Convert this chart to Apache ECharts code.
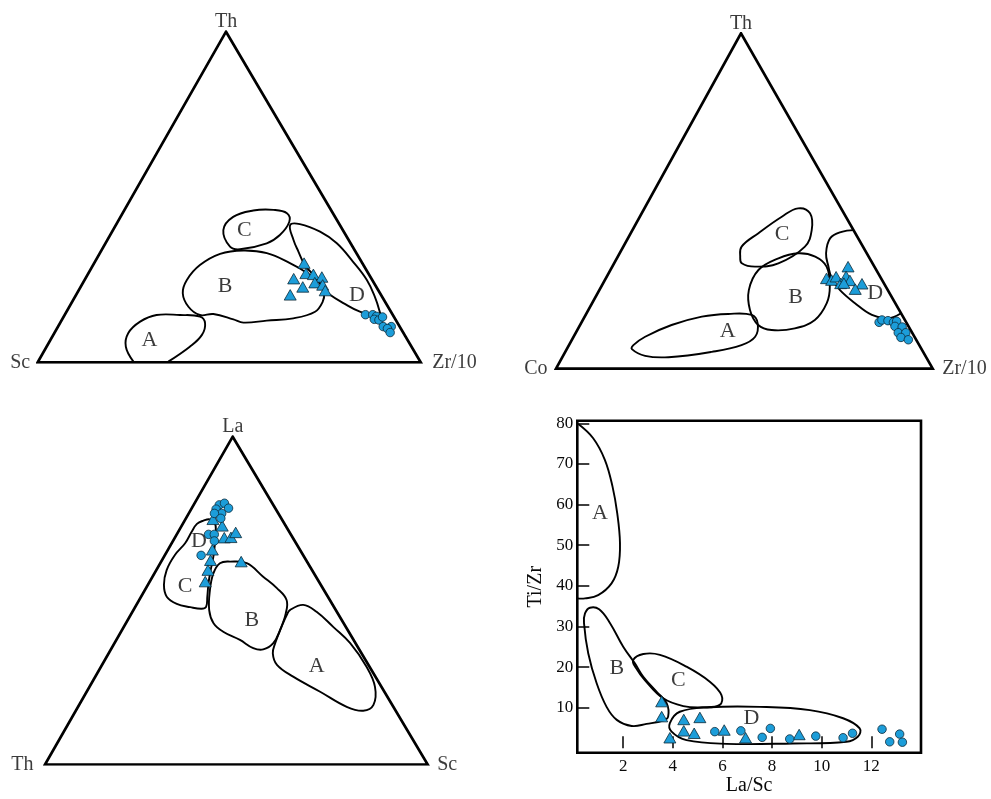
<!DOCTYPE html>
<html>
<head>
<meta charset="utf-8">
<title>Th–Sc–Zr/10, Th–Co–Zr/10, La–Th–Sc and Ti/Zr vs La/Sc discrimination diagrams</title>
<script src="https://cdn.jsdelivr.net/npm/echarts@6/dist/echarts.min.js"></script>
<style>
  html, body { margin: 0; padding: 0; background: #fff; }
  #chart { width: 991px; height: 799px; }
</style>
</head>
<body>
<div id="chart"></div>
<script>
// ---------- Sample compositions (ternary triples: [top, left, right] in %) ----------
// Th – Sc – Zr/10
const tszTriangles = [[30.0,15.2,54.8],[26.9,16.3,56.8],[26.6,14.5,58.9],[25.8,12.7,61.5],[25.3,20.3,54.4],
                      [24.1,15.4,60.5],[23.4,13.7,62.9],[22.8,19.2,58.0],[21.7,13.9,64.4],[20.4,23.7,55.9]];
const tszCircles   = [[14.4,7.1,78.5],[14.4,5.2,80.4],[13.9,4.5,81.6],[13.0,5.5,81.5],[12.8,4.4,82.8],
                      [13.7,3.0,83.3],[10.8,4.3,84.9],[10.8,2.2,87.0],[10.2,3.5,86.3],[9.0,3.4,87.6]];
// Th – Co – Zr/10
const tczTriangles = [[30.4,7.0,62.6],[26.9,14.5,58.6],[26.4,13.4,60.2],[27.4,11.7,60.9],[25.4,11.5,63.1],
                      [27.5,9.0,63.5],[26.3,8.6,65.1],[25.5,10.6,63.9],[25.3,5.9,68.8],[23.7,8.5,67.8]];
const tczCircles   = [[13.8,7.2,79.0],[14.5,6.1,79.4],[14.3,4.6,81.1],[13.8,3.4,82.8],[14.1,2.4,83.5],[12.6,3.6,83.8],
                      [12.4,1.8,85.8],[10.7,3.7,85.6],[10.7,1.7,87.6],[9.3,3.7,87.0],[8.6,2.1,89.3]];
// La – Th – Sc
const ltsCircles   = [[79.2,14.1,6.7],[79.7,12.5,7.8],[78.2,12.2,9.6],[77.9,15.6,6.5],[76.6,14.8,8.6],[76.6,16.7,6.7],
                      [75.1,15.8,9.1],[70.2,21.5,8.3],[70.2,20.0,9.8],[68.2,21.0,10.8],[63.8,26.7,9.5]];
const ltsTriangles = [[74.8,18.0,7.2],[72.8,16.6,10.6],[69.2,17.9,12.9],[69.3,16.1,14.6],[70.8,14.1,15.1],
                      [65.5,22.9,11.6],[62.3,25.0,12.7],[59.3,27.2,13.5],[55.8,29.7,14.5],[61.9,17.2,20.9]];

// ---------- Tectonic-setting fields (ternary outlines as [top %, right %]) ----------
const tszFieldA = [[0.2,24.9],[4.7,20.7],[8.8,19.3],[12.3,20.7],[14.3,24.0],[14.3,30.1],[13.8,35.6],[11.8,37.9],[8.3,38.8],[4.7,37.4],[0.2,34.0]];
const tszFieldB = [[33.8,37.1],[33.0,43.6],[30.0,51.1],[27.1,56.9],[23.9,62.0],[20.9,64.5],[18.3,65.4],[15.3,64.9],[13.3,60.2],[12.6,53.6],
                   [12.0,47.8],[13.0,44.7],[14.6,38.7],[14.3,35.3],[16.8,31.1],[20.9,27.6],[24.9,26.7],[29.4,27.9],[32.8,31.5]];
const tszFieldC = [[40.0,28.8],[35.0,33.0],[34.2,36.0],[36.0,42.1],[38.5,44.3],[42.5,44.8],[45.1,42.9],[46.1,38.9],[45.9,33.7],[44.0,29.4]];
const tszFieldD = [[41.5,45.5],[41.8,47.9],[39.5,54.3],[36.0,60.4],[30.4,67.4],[24.9,73.7],[19.8,78.3],[15.8,81.4],[13.8,82.6],
                   [15.3,76.6],[17.9,71.0],[20.4,66.3],[22.4,63.6],[25.9,59.7],[29.4,55.3],[33.5,51.6],[37.0,48.6]];

const tczFieldA = [[5.8,17.3],[3.8,21.8],[3.4,28.2],[5.0,38.9],[7.0,45.8],[9.5,48.2],[13.5,46.9],[16.0,44.1],[16.3,37.7],[15.5,31.1],[13.0,24.3],[9.5,19.0],[7.0,17.1]];
const tczFieldB = [[13.0,47.3],[11.5,51.6],[12.0,57.5],[14.5,61.6],[19.5,62.3],[24.4,60.7],[30.4,56.9],[33.4,52.4],[34.4,47.4],[32.9,42.9],[29.4,39.3],[23.4,39.7],[17.5,42.9]];
const tczFieldC = [[31.4,33.9],[30.4,37.9],[31.4,43.6],[36.4,48.2],[41.3,47.6],[46.3,44.7],[47.8,40.8],[45.3,37.7],[40.4,33.9],[36.4,31.4],[33.4,32.5]];
const tczFieldD = [[41.3,58.7],[40.8,55.8],[38.9,53.7],[34.4,54.8],[30.4,57.4],[26.9,60.0],[23.4,63.9],[19.5,69.8],[16.0,76.0],[15.0,80.8],[16.5,83.5]];

const ltsFieldCD = [[74.4,4.9],[73.4,3.7],[71.0,3.5],[67.5,3.5],[63.9,2.6],[59.3,2.7],[54.8,4.2],[51.2,6.7],[49.0,10.4],[48.0,14.4],[47.5,17.6],
                    [48.1,18.5],[51.2,17.3],[55.3,15.6],[59.3,14.2],[63.4,12.9],[67.5,11.3],[71.0,9.8],[73.6,8.3],[74.8,6.4]];
const ltsFieldB = [[61.4,15.6],[61.9,18.0],[61.4,22.6],[57.3,28.9],[53.8,34.2],[50.2,38.5],[46.1,40.3],[41.0,41.3],[37.0,41.5],[35.1,39.8],
                   [35.5,37.0],[38.0,32.3],[40.5,26.7],[43.1,22.9],[47.1,19.8],[53.2,17.0],[58.3,15.4]];
const ltsFieldA = [[47.1,40.9],[48.7,43.6],[46.6,48.1],[42.0,54.7],[37.0,61.6],[29.8,69.4],[23.7,74.6],[18.2,76.9],[16.4,75.1],[17.6,70.2],
                   [22.2,61.0],[26.8,51.7],[30.4,45.7],[33.9,42.9],[37.0,42.0],[42.0,41.2],[45.6,40.8]];

// Field-name positions ([top %, right %])
const tszFieldLabels = [['A',[6.8,25.8]],['B',[23.1,37.6]],['C',[40.0,34.3]],['D',[20.4,73.3]]];
const tczFieldLabels = [['A',[11.2,40.1]],['B',[21.4,53.1]],['C',[40.0,40.4]],['D',[22.5,73.7]]];
const ltsFieldLabels = [['D',[68.0,6.9]],['C',[54.5,9.9]],['B',[44.1,32.4]],['A',[30.0,56.3]]];

// ---------- Ti/Zr vs La/Sc ----------
const laScTriangles = [[3.55,11.5],[3.55,7.8],[4.44,7.1],[5.09,7.6],[4.44,4.3],[4.86,3.7],[6.07,4.5],[3.88,2.6],[6.93,2.6],[9.09,3.4]];
const laScCircles   = [[5.69,4.1],[6.74,4.3],[7.93,4.9],[7.60,2.7],[8.71,2.3],[9.76,3.0],[10.86,2.6],[11.24,3.7],[12.43,4.7],[12.74,1.6],[13.14,3.5],[13.25,1.5]];
const laScFieldA = [[0.19,79.8],[0.79,76.3],[1.26,71.0],[1.57,64.4],[1.76,57.8],[1.87,50.5],[1.80,44.7],[1.53,40.6],[0.99,37.7],[0.46,36.9],[0.15,36.9]];
const laScFieldB = [[0.66,34.6],[1.03,34.2],[1.47,30.8],[2.0,25.0],[2.47,20.9],[2.81,17.6],[3.35,13.9],[3.75,11.1],[3.81,7.8],[3.61,6.8],
                    [2.94,6.0],[2.34,5.5],[1.74,7.0],[1.33,10.2],[0.93,16.0],[0.59,23.4],[0.42,30.8],[0.46,33.2]];
const laScFieldC = [[2.40,21.7],[2.81,23.2],[3.48,23.0],[4.55,20.1],[5.49,16.4],[5.96,13.1],[5.89,10.7],[5.22,10.1],[4.42,10.4],[3.61,12.3],[2.87,16.8],[2.51,19.8]];
const laScFieldD = [[3.88,6.2],[4.28,9.0],[5.49,10.1],[7.50,10.2],[9.52,9.4],[10.86,7.4],[11.53,4.9],[11.46,2.9],[10.99,1.6],[8.84,1.2],[6.16,1.1],[4.55,2.0],[3.95,4.1]];
const laScFieldLabels = [['A',[1.06,57.8]],['B',[1.74,19.7]],['C',[4.22,16.8]],['D',[7.17,7.4]]];
const laScXTicks = [2, 4, 6, 8, 10, 12];
const laScYTicks = [10, 20, 30, 40, 50, 60, 70, 80];

// ---------- Drawing helpers ----------
const SERIF = '"Liberation Serif", "Times New Roman", Times, serif';
const INK = '#0a0a0a';
const FILL = '#1c9dd9';
const EDGE = '#0e2a38';

// Ternary panels: apex position as fraction of the base, plus vertex names
const panels = [
  { apex: 0.4917, names: ['Th', 'Sc', 'Zr/10'], gaps: [-1, 7, 11] },
  { apex: 0.4911, names: ['Th', 'Co', 'Zr/10'], gaps: [-1, 8, 9] },
  { apex: 0.4905, names: ['La', 'Th', 'Sc'],    gaps: [-1, 11, 9] }
];

// [top, right] percentages -> cartesian in the panel's 0..100 box
function toXY(top, right, apex) { return [right + apex * top, top]; }
function tripleXY(p, apex) {
  const s = p[0] + p[1] + p[2];
  return toXY(p[0] / s * 100, p[2] / s * 100, apex);
}

function envelope(points, gi, closed) {
  return {
    type: 'custom', xAxisIndex: gi, yAxisIndex: gi, coordinateSystem: 'cartesian2d',
    data: [points[0]], clip: false, silent: true, z: 2,
    renderItem: function (params, api) {
      return {
        type: closed ? 'polygon' : 'polyline',
        shape: { points: points.map(p => api.coord(p)), smooth: 0.4 },
        style: { fill: 'none', stroke: '#000', lineWidth: 1.9 }
      };
    }
  };
}

function fieldLabels(list, gi) {
  return {
    type: 'scatter', xAxisIndex: gi, yAxisIndex: gi, silent: true, z: 3,
    symbolSize: 1, itemStyle: { color: 'rgba(0,0,0,0)' },
    label: { show: true, position: 'inside', formatter: p => p.name,
             fontFamily: SERIF, fontSize: 22, color: INK },
    data: list.map(d => ({ name: d[0], value: d[1] }))
  };
}

function markers(data, gi, shape) {
  return {
    type: 'scatter', xAxisIndex: gi, yAxisIndex: gi, z: 5, silent: true,
    symbol: shape, symbolSize: shape === 'triangle' ? [12, 10.5] : 8.5,
    itemStyle: { color: FILL, borderColor: EDGE, borderWidth: 0.8, opacity: 1 },
    data: data
  };
}

const grids = [
  { left: 37.7, top: 31.7, width: 383, height: 330.6 },
  { left: 556, top: 33.3, width: 376.7, height: 335.3 },
  { left: 45, top: 436.7, width: 382.7, height: 327.8 },
  { left: 577.3, top: 420.7, width: 343.7, height: 332, show: true,
    borderColor: '#000', borderWidth: 2.6, backgroundColor: 'transparent' }
];

const xAxes = [], yAxes = [], series = [];
for (let i = 0; i < 3; i++) {
  xAxes.push({ type: 'value', gridIndex: i, min: 0, max: 100, show: false });
  yAxes.push({ type: 'value', gridIndex: i, min: 0, max: 100, show: false });
}
xAxes.push({
  type: 'value', gridIndex: 3, min: 0.15, max: 14,
  axisLine: { show: false }, splitLine: { show: false },
  axisTick: { show: true, inside: true, length: 12, customValues: laScXTicks, lineStyle: { color: '#000', width: 1.5 } },
  axisLabel: { customValues: laScXTicks, fontFamily: SERIF, fontSize: 17, color: INK, margin: 5 },
  name: 'La/Sc', nameLocation: 'middle', nameGap: 23,
  nameTextStyle: { fontFamily: SERIF, fontSize: 20, color: INK }
});
yAxes.push({
  type: 'value', gridIndex: 3, min: -1.08, max: 80.63,
  axisLine: { show: false }, splitLine: { show: false },
  axisTick: { show: true, inside: true, length: 12, customValues: laScYTicks, lineStyle: { color: '#000', width: 1.5 } },
  axisLabel: { customValues: laScYTicks, fontFamily: SERIF, fontSize: 17, color: INK, margin: 4 },
  name: 'Ti/Zr', nameLocation: 'middle', nameGap: 32, nameRotate: 90,
  nameTextStyle: { fontFamily: SERIF, fontSize: 20, color: INK }
});

// Ternary frames and vertex names
panels.forEach((pn, i) => {
  const top = toXY(100, 0, pn.apex), left = toXY(0, 0, pn.apex), right = toXY(0, 100, pn.apex);
  series.push({
    type: 'line', xAxisIndex: i, yAxisIndex: i, silent: true, z: 1, symbol: 'none',
    lineStyle: { color: '#000', width: 2.7, join: 'miter' },
    data: [left, right, top, left, right]
  });
  series.push({
    type: 'scatter', xAxisIndex: i, yAxisIndex: i, silent: true, z: 3,
    symbolSize: 1, itemStyle: { color: 'rgba(0,0,0,0)' },
    label: { show: true, formatter: p => p.name, fontFamily: SERIF, fontSize: 20, color: INK },
    data: [
      { name: pn.names[0], value: top,   label: { position: 'top',   distance: pn.gaps[0] } },
      { name: pn.names[1], value: left,  label: { position: 'left',  distance: pn.gaps[1] } },
      { name: pn.names[2], value: right, label: { position: 'right', distance: pn.gaps[2] } }
    ]
  });
});

const ap = panels.map(p => p.apex);
const tern = (pts, k) => pts.map(p => toXY(p[0], p[1], ap[k]));
const ternLabels = (list, k) => list.map(d => [d[0], toXY(d[1][0], d[1][1], ap[k])]);

// Th – Sc – Zr/10
series.push(envelope(tern(tszFieldA, 0), 0, false));
series.push(envelope(tern(tszFieldB, 0), 0, true));
series.push(envelope(tern(tszFieldC, 0), 0, true));
series.push(envelope(tern(tszFieldD, 0), 0, true));
series.push(fieldLabels(ternLabels(tszFieldLabels, 0), 0));
series.push(markers(tszTriangles.map(p => tripleXY(p, ap[0])), 0, 'triangle'));
series.push(markers(tszCircles.map(p => tripleXY(p, ap[0])), 0, 'circle'));

// Th – Co – Zr/10
series.push(envelope(tern(tczFieldA, 1), 1, true));
series.push(envelope(tern(tczFieldB, 1), 1, true));
series.push(envelope(tern(tczFieldC, 1), 1, true));
series.push(envelope(tern(tczFieldD, 1), 1, false));
series.push(fieldLabels(ternLabels(tczFieldLabels, 1), 1));
series.push(markers(tczTriangles.map(p => tripleXY(p, ap[1])), 1, 'triangle'));
series.push(markers(tczCircles.map(p => tripleXY(p, ap[1])), 1, 'circle'));

// La – Th – Sc
series.push(envelope(tern(ltsFieldCD, 2), 2, true));
series.push(envelope(tern(ltsFieldB, 2), 2, true));
series.push(envelope(tern(ltsFieldA, 2), 2, true));
series.push(fieldLabels(ternLabels(ltsFieldLabels, 2), 2));
series.push(markers(ltsTriangles.map(p => tripleXY(p, ap[2])), 2, 'triangle'));
series.push(markers(ltsCircles.map(p => tripleXY(p, ap[2])), 2, 'circle'));

// Ti/Zr vs La/Sc
series.push(envelope(laScFieldA, 3, false));
series.push(envelope(laScFieldB, 3, true));
series.push(envelope(laScFieldC, 3, true));
series.push(envelope(laScFieldD, 3, true));
series.push(fieldLabels(laScFieldLabels, 3));
series.push(markers(laScTriangles, 3, 'triangle'));
series.push(markers(laScCircles, 3, 'circle'));

const chart = echarts.init(document.getElementById('chart'), null, { renderer: 'canvas' });
chart.setOption({
  animation: false,
  backgroundColor: '#ffffff',
  grid: grids,
  xAxis: xAxes,
  yAxis: yAxes,
  series: series
});
</script>
</body>
</html>
